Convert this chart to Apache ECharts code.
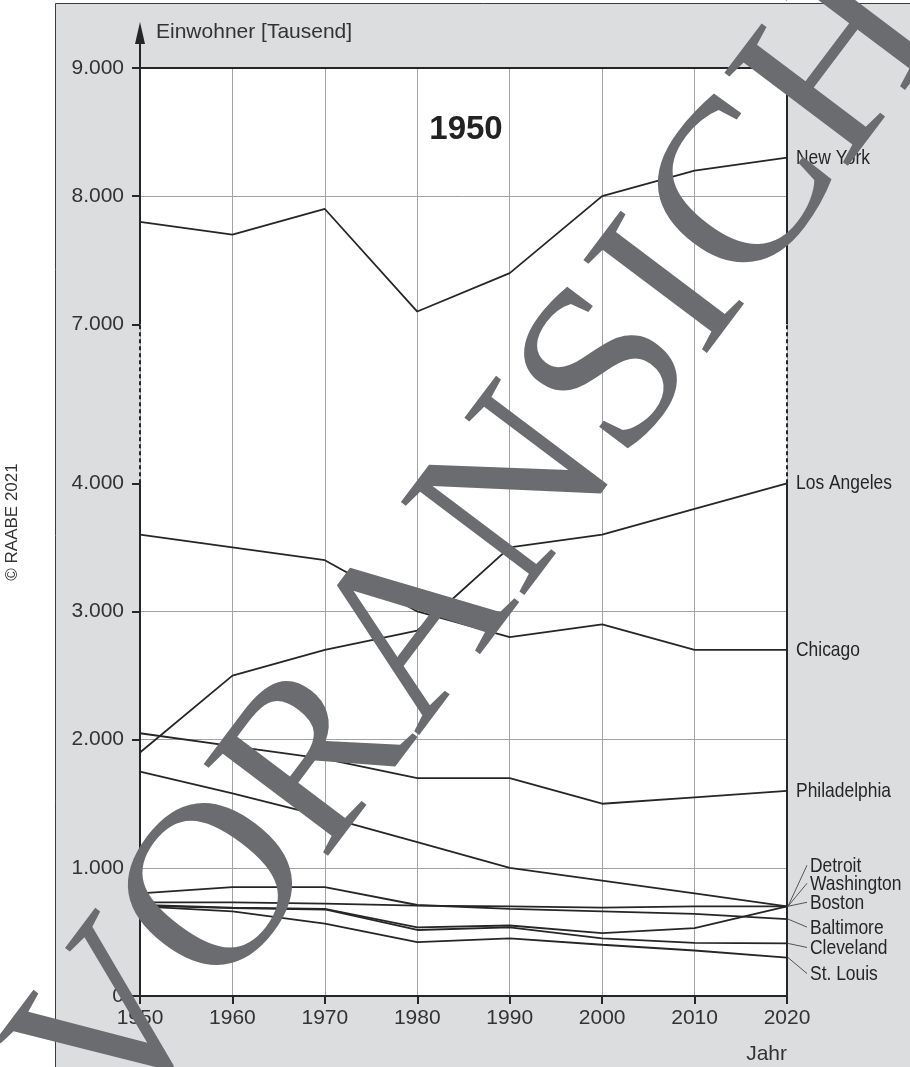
<!DOCTYPE html>
<html>
<head>
<meta charset="utf-8">
<script src="https://cdn.jsdelivr.net/npm/echarts@6.0.0/dist/echarts.min.js"></script>
<style>
    html, body { margin: 0; padding: 0; background: #fff; }
    #chart { width: 910px; height: 1067px; }
</style>
</head>
<body>
<div id="chart"></div>
<script>
    // Einwohner [Tausend], Stand je Jahrzehnt
    var years = [1950, 1960, 1970, 1980, 1990, 2000, 2010, 2020];
    var yTicks = [0, 1000, 2000, 3000, 4000, 7000, 8000, 9000];

    var newYork = [7800, 7700, 7900, 7100, 7400, 8000, 8200, 8300];
    var losAngeles = [1900, 2500, 2700, 2850, 3500, 3600, 3800, 4000];
    var chicago = [3600, 3500, 3400, 3000, 2800, 2900, 2700, 2700];
    var philadelphia = [2050, 1950, 1850, 1700, 1700, 1500, 1550, 1600];
    var detroit = [1750, 1580, 1400, 1200, 1000, 900, 800, 700];
    var washington = [710, 690, 680, 535, 550, 490, 530, 700];
    var boston = [730, 730, 720, 705, 700, 690, 700, 700];
    var baltimore = [800, 850, 850, 710, 680, 660, 640, 600];
    var cleveland = [705, 685, 675, 515, 535, 450, 415, 410];
    var stLouis = [700, 660, 565, 420, 450, 400, 355, 300];

    var cities = ['New York', 'Los Angeles', 'Chicago', 'Philadelphia', 'Detroit',
        'Washington', 'Boston', 'Baltimore', 'Cleveland', 'St. Louis'];
    var values = [newYork, losAngeles, chicago, philadelphia, detroit,
        washington, boston, baltimore, cleveland, stLouis];
    // Beschriftung unten: Abstand zum Linienende (nur Label-Layout)
    var labelShift = [0, 0, 0, 0, -40, -22, -3, 9, 5, 17];

    var ink = '#262626';
    var sans = '"Liberation Sans", Arial, sans-serif';

    function fmt(v) {
        return String(v).replace(/\B(?=(\d{3})+(?!\d))/g, '.');
    }

    var myChart = echarts.init(document.getElementById('chart'));

    var series = cities.map(function (name, i) {
        return {
            name: name,
            type: 'line',
            symbol: 'none',
            silent: true,
            data: years.map(function (y, j) { return [y, values[i][j]]; }),
            lineStyle: { color: ink, width: 1.8 },
            z: 3
        };
    });

    myChart.setOption({
        animation: false,
        grid: { left: 140, right: 123, top: 68, bottom: 71, show: false },
        xAxis: {
            type: 'value',
            min: 1950,
            max: 2020,
            interval: 10,
            axisLine: { show: true, lineStyle: { color: ink, width: 2 } },
            axisTick: { show: true, length: 8, lineStyle: { color: ink, width: 2 } },
            axisLabel: {
                color: '#333', fontSize: 21, fontFamily: sans, margin: 12,
                formatter: function (v) { return String(v); }
            },
            splitLine: { show: true, lineStyle: { color: '#a3a3a3', width: 1 } }
        },
        yAxis: {
            type: 'value',
            min: 0,
            max: 9000,
            interval: 1000,
            breaks: [{ start: 4000, end: 7000, gap: '17.13%' }],
            breakArea: { show: false },
            axisLine: { show: false },
            axisTick: { show: true, length: 8, lineStyle: { color: ink, width: 2 } },
            axisLabel: {
                color: '#333', fontSize: 21, fontFamily: sans, margin: 16,
                formatter: function (v) { return fmt(v); }
            },
            splitLine: { show: true, lineStyle: { color: '#a3a3a3', width: 1 } }
        },
        series: series
    });

    // Rahmen, Achsen mit Bruch, Texte
    var x0 = myChart.convertToPixel({ xAxisIndex: 0 }, 1950);
    var x1 = myChart.convertToPixel({ xAxisIndex: 0 }, 2020);
    var yPx = yTicks.map(function (v) { return myChart.convertToPixel({ yAxisIndex: 0 }, v); });
    var y0 = yPx[0], yLo = yPx[4], yHi = yPx[5], yTop = yPx[7];

    var graphics = [
        {
            type: 'rect', z: -20, silent: true,
            shape: { x: 55.5, y: 3.5, width: 900, height: 1100 },
            style: { fill: '#dcdddf', stroke: '#3c3c3c', lineWidth: 1 }
        },
        {
            type: 'rect', z: -10, silent: true,
            shape: { x: x0, y: yTop, width: x1 - x0, height: y0 - yTop },
            style: { fill: '#ffffff' }
        }
    ];

    function seg(x, ya, yb, dashed) {
        return {
            type: 'line', z: 5, silent: true,
            shape: { x1: x, y1: ya, x2: x, y2: yb },
            style: { stroke: ink, lineWidth: 2, lineDash: dashed ? [4, 3] : null }
        };
    }
    [x0, x1].forEach(function (x) {
        graphics.push(seg(x, y0, yLo, false));
        graphics.push(seg(x, yLo, yHi, true));
        graphics.push(seg(x, yHi, yTop, false));
    });
    graphics.push(seg(x0, yTop, yTop - 26, false));
    graphics.push({
        type: 'polygon', z: 5, silent: true,
        shape: { points: [[x0 - 5, yTop - 24], [x0, yTop - 46], [x0 + 5, yTop - 24]] },
        style: { fill: ink }
    });
    graphics.push({
        type: 'line', z: 5, silent: true,
        shape: { x1: x0, y1: yTop, x2: x1, y2: yTop },
        style: { stroke: ink, lineWidth: 2 }
    });

    // Stadtnamen am Linienende, unten mit Hinweislinien
    var last = years.length - 1;
    for (var i = 0; i < cities.length; i++) {
        var end = myChart.convertToPixel({ gridIndex: 0 }, [years[last], values[i][last]]);
        var lead = i >= 4;
        var ly = end[1] + labelShift[i];
        graphics.push({
            type: 'text', z: 6, silent: true,
            x: end[0] + (lead ? 23 : 9), y: ly, scaleX: 0.83,
            style: { text: cities[i], fill: ink, font: '21px ' + sans, verticalAlign: 'middle' }
        });
        if (lead) {
            graphics.push({
                type: 'line', z: 5, silent: true,
                shape: { x1: end[0] + 1, y1: end[1], x2: end[0] + 20, y2: ly - 1 },
                style: { stroke: '#555', lineWidth: 1 }
            });
        }
    }

    graphics.push({
        type: 'text', z: 6, silent: true, x: x0 + 16, y: 32,
        style: { text: 'Einwohner [Tausend]', fill: '#333', font: '21px ' + sans, verticalAlign: 'middle' }
    });
    graphics.push({
        type: 'text', z: 6, silent: true, x: 466, y: 130,
        style: { text: '1950', fill: '#222', font: 'bold 33px ' + sans, align: 'center', verticalAlign: 'middle' }
    });
    graphics.push({
        type: 'text', z: 6, silent: true, x: x1, y: 1054,
        style: { text: 'Jahr', fill: '#333', font: '21px ' + sans, align: 'right', verticalAlign: 'middle' }
    });
    graphics.push({
        type: 'text', z: 6, silent: true, x: 12, y: 522, rotation: Math.PI / 2,
        style: { text: '© RAABE 2021', fill: '#333', font: '17px ' + sans, align: 'center', verticalAlign: 'middle' }
    });
    graphics.push({
        type: 'text', z: 50, silent: true, x: 526, y: 490, rotation: 0.925,
        style: { text: 'VORANSICHT', fill: '#6b6c70', font: '236px "Liberation Serif", "DejaVu Serif", serif', align: 'center', verticalAlign: 'middle' }
    });

    myChart.setOption({ graphic: { elements: graphics } });
</script>
</body>
</html>
